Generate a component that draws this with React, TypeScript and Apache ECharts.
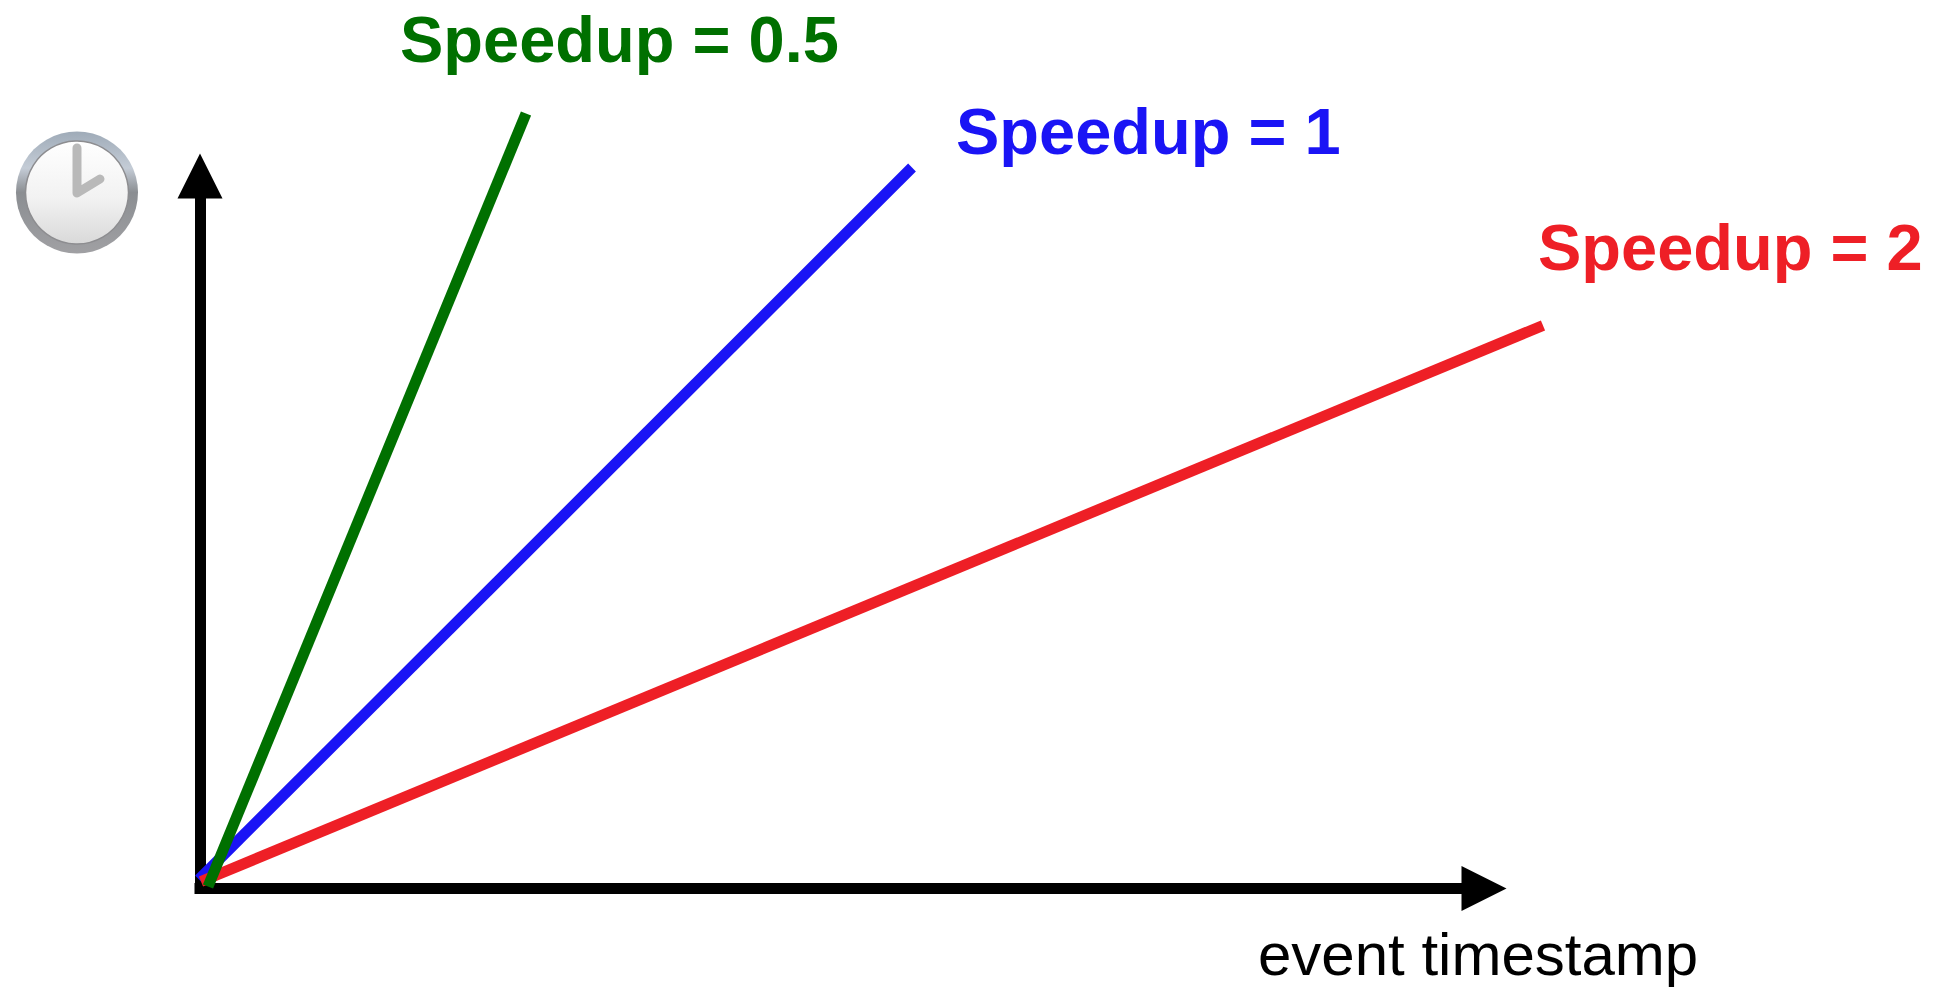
import React, { useEffect, useRef } from "react";
import * as echarts from "echarts";

const speedupHalf = [[0.08, 0.02], [3.26, 7.75]];
const speedupOne = [[-0.01, 0.09], [7.12, 7.21]];
const speedupTwo = [[0.01, 0.07], [13.43, 5.63]];
const labels = ["Speedup = 0.5", "Speedup = 1", "Speedup = 2"];
const xName = "event timestamp";
const GREEN = "#007000";
const BLUE = "#1a14f5";
const RED = "#ee1f26";
const FONT = '"Liberation Sans", sans-serif';

const axisBase = (index: number) => ({
  type: "value",
  gridIndex: index,
  min: 0,
  axisTick: { show: false },
  axisLabel: { show: false },
  splitLine: { show: false },
  axisLine: {
    show: index === 0,
    symbol: ["none", "triangle"],
    symbolSize: [45, 45],
    lineStyle: { color: "#000", width: 11, cap: "square" },
  },
});

const lineSeries = (name: string, data: number[][], color: string) => ({
  name,
  type: "line",
  xAxisIndex: 1,
  yAxisIndex: 1,
  data,
  clip: false,
  showSymbol: false,
  symbol: "none",
  silent: true,
  lineStyle: { color, width: 11, cap: "butt" },
});

const bold = (text: string, x: number, baseline: number, fill: string) => ({
  type: "text",
  x,
  y: baseline + 10,
  style: { text, fill, font: `bold 65px ${FONT}`, textAlign: "left", verticalAlign: "bottom" },
});

export default function App() {
  const ref = useRef<HTMLDivElement>(null);
  useEffect(() => {
    document.body.style.margin = "0";
    const chart = echarts.init(ref.current!, null, { renderer: "svg" });
    chart.setOption({
      animation: false,
      backgroundColor: "#fff",
      grid: [
        { left: 200, top: 176, width: 1284, height: 712.5 },
        { left: 200, top: 176, width: 1400, height: 712.5 },
      ],
      xAxis: [
        { ...axisBase(0), max: 12.84 },
        { ...axisBase(1), max: 14 },
      ],
      yAxis: [
        { ...axisBase(0), max: 7.125 },
        { ...axisBase(1), max: 7.125 },
      ],
      series: [
        lineSeries(labels[1], speedupOne, BLUE),
        lineSeries(labels[2], speedupTwo, RED),
        lineSeries(labels[0], speedupHalf, GREEN),
      ],
      graphic: [
        bold(labels[0], 400, 62, GREEN),
        bold(labels[1], 956, 154, BLUE),
        bold(labels[2], 1538, 270, RED),
        {
          type: "text",
          x: 1258,
          y: 984,
          style: { text: xName, fill: "#000", font: `60px ${FONT}`, textAlign: "left", verticalAlign: "bottom" },
        },
        {
          type: "group",
          children: [
            {
              type: "circle",
              shape: { cx: 77, cy: 192.5, r: 61 },
              style: {
                fill: new echarts.graphic.LinearGradient(0, 0, 0, 1, [
                  { offset: 0, color: "#9fabb8" },
                  { offset: 0.3, color: "#c4ccd6" },
                  { offset: 0.5, color: "#8b8e92" },
                  { offset: 1, color: "#a0a0a3" },
                ]),
              },
            },
            {
              type: "circle",
              shape: { cx: 77, cy: 192.5, r: 51.5 },
              style: {
                fill: new echarts.graphic.LinearGradient(0, 0, 0, 1, [
                  { offset: 0, color: "#ffffff" },
                  { offset: 0.55, color: "#f2f2f2" },
                  { offset: 1, color: "#d9d9d9" },
                ]),
                stroke: "#8d8d90",
                lineWidth: 1.5,
              },
            },
            {
              type: "polyline",
              shape: { points: [[77, 148], [77, 193], [100, 179]] },
              style: { stroke: "#b9b9b9", lineWidth: 9, fill: "none", lineCap: "round", lineJoin: "round" },
            },
          ],
        },
      ],
    });
    return () => chart.dispose();
  }, []);
  return <div ref={ref} style={{ position: "absolute", left: 0, top: 0, width: 1935, height: 990 }} />;
}
